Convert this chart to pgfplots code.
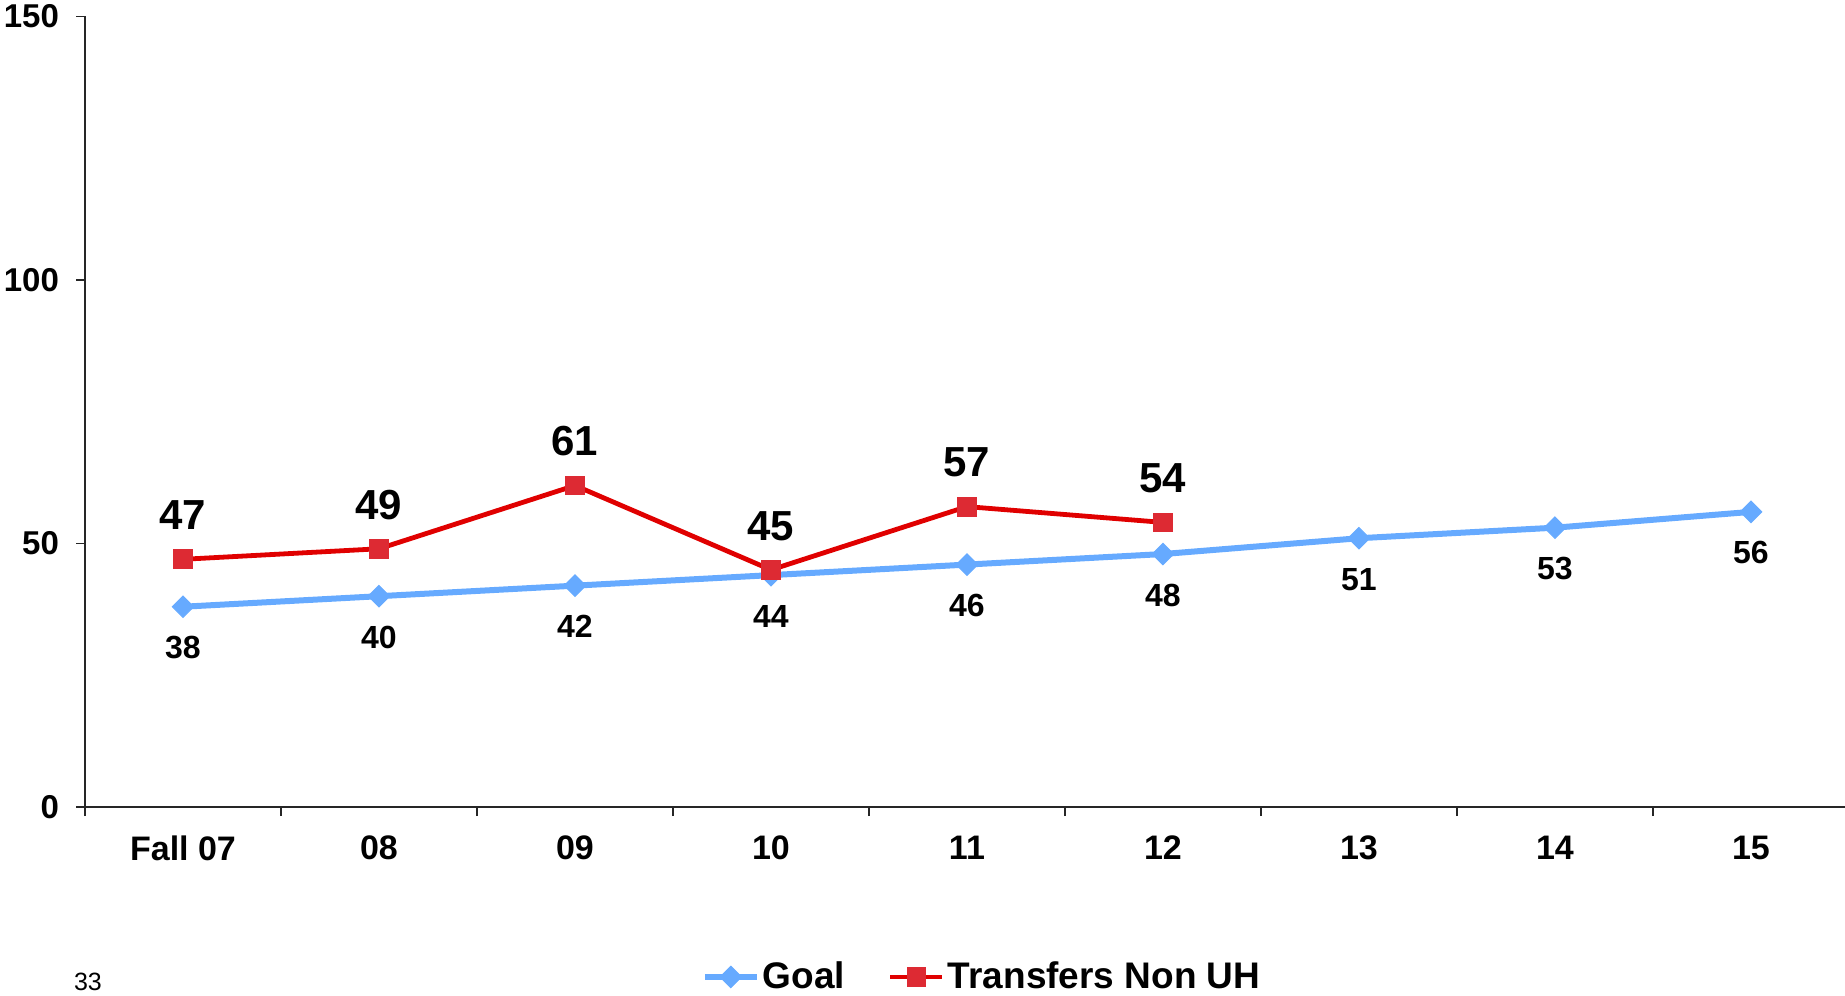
\documentclass[border=0pt]{standalone}
\usepackage{fontspec}
\setmainfont{Liberation Sans}
\usepackage{pgfplots}
\pgfplotsset{compat=1.18}
\definecolor{goalblue}{RGB}{102,170,255}
\definecolor{redline}{RGB}{224,0,0}
\definecolor{redmark}{RGB}{221,42,51}
\begin{document}
\begin{tikzpicture}[x=1pt,y=1pt]
\path[use as bounding box] (0,0) rectangle (922.5,497.5);
\begin{axis}[
 at={(42.5pt,94pt)}, anchor=south west,
 scale only axis, width=880pt, height=395.25pt,
 xmin=-0.5, xmax=8.48, ymin=0, ymax=150,
 axis lines=left, axis line style={-, line width=0.6pt, black!85},
 clip=false,
 /pgf/number format/assume math mode=true,
 ytick={0,50,100,150},
 tick align=outside, major tick length=4.5pt,
 tick style={line width=0.6pt, black!85},
 yticklabel style={font=\bfseries\fontsize{16.5}{18}\selectfont, xshift=-5pt},
 xtick={-0.5,0.5,...,7.5}, xticklabels={},
 extra x ticks={0,...,8},
 extra x tick labels={Fall 07,08,09,10,11,12,13,14,15},
 extra x tick style={major tick length=0pt, tick label style={font=\bfseries\fontsize{17}{19}\selectfont, yshift=-11pt}},
 legend style={at={(0.51,-0.215)}, anchor=center, draw=none, fill=none,
   legend columns=2, font=\bfseries\fontsize{18.5}{20}\selectfont,
   nodes={inner sep=1.5pt},
   /tikz/every even column/.append style={column sep=20pt}},
 legend cell align=left,
 legend image code/.code={\draw[mark repeat=2,mark phase=2] plot coordinates {(0pt,0pt) (13pt,0pt) (26pt,0pt)};},
]
\addplot[goalblue, line width=3pt, mark=square*, mark size=3.8pt,
  mark options={solid, rotate=45, line width=0.5pt, fill=goalblue, draw=goalblue},
  nodes near coords,
  every node near coord/.append style={anchor=center, yshift=-20.5pt, text=black, font=\bfseries\fontsize{16}{18}\selectfont}]
 coordinates {(0,38) (1,40) (2,42) (3,44) (4,46) (5,48) (6,51) (7,53) (8,56)};
\addlegendentry{Goal}
\addplot[redline, line width=2.4pt, mark=square*, mark size=4.7pt,
  mark options={solid, line width=0.5pt, fill=redmark, draw=redmark},
  nodes near coords,
  every node near coord/.append style={anchor=center, yshift=22pt, text=black, font=\bfseries\fontsize{21}{24}\selectfont}]
 coordinates {(0,47) (1,49) (2,61) (3,45) (4,57) (5,54)};
\addlegendentry{Transfers Non UH}
\end{axis}
\node[font=\fontsize{12.5}{14}\selectfont, anchor=center] at (44,6.5) {33};
\end{tikzpicture}
\end{document}
